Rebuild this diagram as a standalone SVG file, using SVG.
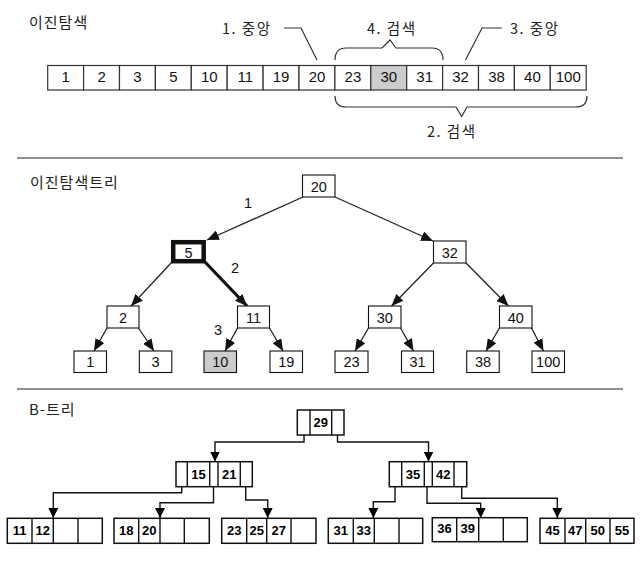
<svg xmlns="http://www.w3.org/2000/svg" width="640" height="570" viewBox="0 0 640 570">
<style>
.bg{fill:#fff}
.cell{fill:#fff;stroke:#333;stroke-width:1.2}
.hl{fill:#cccccc}
.num{font-family:"Liberation Sans","Noto Sans CJK KR",sans-serif;font-size:15px;fill:#111;text-anchor:middle}
.tnum{font-family:"Liberation Sans","Noto Sans CJK KR",sans-serif;font-size:14.5px;fill:#111;text-anchor:middle}
.bnum{font-family:"Liberation Sans","Noto Sans CJK KR",sans-serif;font-size:13px;font-weight:bold;fill:#000;text-anchor:middle}
.kr{font-family:"Noto Sans CJK KR","Liberation Sans",sans-serif;font-size:14.5px;letter-spacing:1.5px;fill:#222}
.title{font-family:"Noto Sans CJK KR","Liberation Sans",sans-serif;font-size:15px;letter-spacing:1px;fill:#222}
.lbl{font-family:"Liberation Sans",sans-serif;font-size:14.5px;fill:#111;text-anchor:middle}
.thin{fill:none;stroke:#333;stroke-width:1.2}
.node{fill:#fff;stroke:#111;stroke-width:1.1}
.edge{stroke:#222;stroke-width:1.3;fill:none;marker-end:url(#ah)}
.edgeb{stroke:#111;stroke-width:3.2;fill:none;marker-end:url(#ah)}
.bbox{fill:#fff;stroke:#111;stroke-width:1.5}
.bptr{stroke:#111;stroke-width:1.4;fill:none}
.barr{stroke:#111;stroke-width:1.4;fill:none;marker-end:url(#bh)}
.sep{stroke:#222;stroke-width:1.2}
</style>
<defs>
<marker id="ah" viewBox="0 0 12 10" refX="12" refY="5" markerWidth="12" markerHeight="10" markerUnits="userSpaceOnUse" orient="auto">
<path d="M0,0 L12,5 L0,10 z" fill="#111"/>
</marker>
<marker id="bh" viewBox="0 0 10 10" refX="10" refY="5" markerWidth="10" markerHeight="10" markerUnits="userSpaceOnUse" orient="auto">
<path d="M0,0 L10,5 L0,10 z" fill="#000"/>
</marker>
</defs>
<rect class="bg" x="0" y="0" width="640" height="570"/>

<!-- Section 1: binary search -->
<text class="title" x="29" y="28">이진탐색</text>
<g id="array">
<rect class="cell" x="47.7" y="65.5" width="35.9" height="24.5"/>
<rect class="cell" x="83.6" y="65.5" width="35.9" height="24.5"/>
<rect class="cell" x="119.5" y="65.5" width="35.9" height="24.5"/>
<rect class="cell" x="155.4" y="65.5" width="35.9" height="24.5"/>
<rect class="cell" x="191.3" y="65.5" width="35.9" height="24.5"/>
<rect class="cell" x="227.2" y="65.5" width="35.9" height="24.5"/>
<rect class="cell" x="263.1" y="65.5" width="35.9" height="24.5"/>
<rect class="cell" x="299.0" y="65.5" width="35.9" height="24.5"/>
<rect class="cell" x="334.9" y="65.5" width="35.9" height="24.5"/>
<rect class="cell hl" x="370.8" y="65.5" width="35.9" height="24.5"/>
<rect class="cell" x="406.7" y="65.5" width="35.9" height="24.5"/>
<rect class="cell" x="442.6" y="65.5" width="35.9" height="24.5"/>
<rect class="cell" x="478.5" y="65.5" width="35.9" height="24.5"/>
<rect class="cell" x="514.4" y="65.5" width="35.9" height="24.5"/>
<rect class="cell" x="550.3" y="65.5" width="35.9" height="24.5"/>
<text class="num" x="65.7" y="82">1</text>
<text class="num" x="101.6" y="82">2</text>
<text class="num" x="137.5" y="82">3</text>
<text class="num" x="173.4" y="82">5</text>
<text class="num" x="209.3" y="82">10</text>
<text class="num" x="245.2" y="82">11</text>
<text class="num" x="281.1" y="82">19</text>
<text class="num" x="317.0" y="82">20</text>
<text class="num" x="352.9" y="82">23</text>
<text class="num" x="388.8" y="82">30</text>
<text class="num" x="424.7" y="82">31</text>
<text class="num" x="460.6" y="82">32</text>
<text class="num" x="496.5" y="82">38</text>
<text class="num" x="532.4" y="82">40</text>
<text class="num" x="568.3" y="82">100</text>
</g>
<g id="annotations">
<text class="kr" x="222" y="34">1. 중앙</text>
<polyline class="thin" points="284,28 301,28 317,60"/>
<text class="kr" x="367" y="34">4. 검색</text>
<path class="thin" d="M335,60 Q335,48 346,48 L382,48 L390,40 L396,48 L432,48 Q443,48 443,60"/>
<text class="kr" x="510" y="34">3. 중앙</text>
<polyline class="thin" points="502,28 482,28 465.5,60"/>
<path class="thin" d="M335,96 Q335,107 346,107 L456,107 L461.7,116.5 L467,107 L576,107 Q587,107 587,96"/>
<text class="kr" x="427" y="137">2. 검색</text>
</g>
<line class="sep" x1="17" y1="158" x2="623" y2="158"/>

<!-- Section 2: binary search tree -->
<text class="title" x="30" y="188">이진탐색트리</text>
<g id="bst-edges">
<line class="edge" x1="303" y1="197" x2="207" y2="240"/>
<line class="edge" x1="335" y1="197" x2="433" y2="241"/>
<line class="edge" x1="172" y1="262" x2="131" y2="306"/>
<line class="edgeb" x1="205" y1="262" x2="247" y2="306"/>
<line class="edge" x1="433.5" y1="263" x2="391.5" y2="306"/>
<line class="edge" x1="466" y1="263" x2="508.5" y2="306"/>
<line class="edge" x1="107" y1="328" x2="94" y2="351"/>
<line class="edge" x1="138.5" y1="328" x2="154" y2="351"/>
<line class="edge" x1="237.5" y1="328" x2="225" y2="351"/>
<line class="edge" x1="269.5" y1="328" x2="283" y2="351"/>
<line class="edge" x1="368.5" y1="328" x2="355" y2="351"/>
<line class="edge" x1="400.5" y1="328" x2="413.5" y2="351"/>
<line class="edge" x1="499.5" y1="328" x2="486" y2="351"/>
<line class="edge" x1="531.5" y1="328" x2="543.5" y2="351"/>
</g>
<text class="lbl" x="248" y="208">1</text>
<text class="lbl" x="235" y="273">2</text>
<text class="lbl" x="218" y="335">3</text>
<g id="n20"><rect class="node" x="302.5" y="175" width="32.5" height="22"/><text class="tnum" x="318.7" y="191.5">20</text></g>
<g id="n5"><rect class="node" x="173.2" y="242.2" width="30.5" height="19" style="stroke-width:4.5"/><text class="tnum" x="188.5" y="257.5">5</text></g>
<g id="n32"><rect class="node" x="433.5" y="241" width="32.5" height="22"/><text class="tnum" x="449.7" y="257.5">32</text></g>
<g id="n2"><rect class="node" x="107" y="306" width="32" height="22"/><text class="tnum" x="123" y="322.5">2</text></g>
<g id="n11"><rect class="node" x="237.5" y="306" width="32" height="22"/><text class="tnum" x="253.5" y="322.5">11</text></g>
<g id="n30"><rect class="node" x="368.5" y="306" width="32.5" height="22"/><text class="tnum" x="384.7" y="322.5">30</text></g>
<g id="n40"><rect class="node" x="499.5" y="306" width="32.5" height="22"/><text class="tnum" x="515.7" y="322.5">40</text></g>
<g id="n1"><rect class="node" x="74" y="351" width="32.5" height="21.5"/><text class="tnum" x="90.2" y="367">1</text></g>
<g id="n3"><rect class="node" x="139.3" y="351" width="32.5" height="21.5"/><text class="tnum" x="155.5" y="367">3</text></g>
<g id="n10"><rect class="node" x="204" y="351" width="32.5" height="21.5" style="fill:#cccccc"/><text class="tnum" x="220.2" y="367">10</text></g>
<g id="n19"><rect class="node" x="270" y="351" width="32.5" height="21.5"/><text class="tnum" x="286.2" y="367">19</text></g>
<g id="n23"><rect class="node" x="335" y="351" width="33" height="21.5"/><text class="tnum" x="351.5" y="367">23</text></g>
<g id="n31"><rect class="node" x="401.5" y="351" width="32" height="21.5"/><text class="tnum" x="417.5" y="367">31</text></g>
<g id="n38"><rect class="node" x="466.7" y="351" width="32.5" height="21.5"/><text class="tnum" x="483" y="367">38</text></g>
<g id="n100"><rect class="node" x="532" y="351" width="32.5" height="21.5"/><text class="tnum" x="548.2" y="367">100</text></g>
<line class="sep" x1="17" y1="389" x2="623" y2="389"/>

<!-- Section 3: B-tree -->
<text class="title" x="29" y="415">B-트리</text>
<g id="btree-edges">
<polyline class="barr" points="304,423 304,442 215,442 215,461.5"/>
<polyline class="barr" points="337.5,423 337.5,442 428.5,442 428.5,461.5"/>
<polyline class="barr" points="181.7,476 181.7,492.7 53.3,492.7 53.3,518"/>
<polyline class="barr" points="213.5,476 213.5,502.7 160,502.7 160,518"/>
<polyline class="barr" points="245.7,476 245.7,500 267.7,500 267.7,518"/>
<polyline class="barr" points="395,476 395,501.7 373.3,501.7 373.3,518"/>
<polyline class="barr" points="427,476 427,503.3 480.7,503.3 480.7,518"/>
<polyline class="barr" points="461.7,476 461.7,498.3 557.3,498.3 557.3,518"/>
</g>
<g id="b29">
<rect class="bbox" x="297.3" y="410" width="46.7" height="25"/>
<line class="bptr" x1="310" y1="410" x2="310" y2="435"/>
<line class="bptr" x1="331.7" y1="410" x2="331.7" y2="435"/>
<text class="bnum" x="320.8" y="427">29</text>
</g>
<g id="b15-21">
<rect class="bbox" x="176" y="461.7" width="76.3" height="25"/>
<line class="bptr" x1="187.3" y1="461.7" x2="187.3" y2="486.7"/>
<line class="bptr" x1="209.7" y1="461.7" x2="209.7" y2="486.7"/>
<line class="bptr" x1="218" y1="461.7" x2="218" y2="486.7"/>
<line class="bptr" x1="240.3" y1="461.7" x2="240.3" y2="486.7"/>
<text class="bnum" x="198.5" y="478.5">15</text>
<text class="bnum" x="229.2" y="478.5">21</text>
</g>
<g id="b35-42">
<rect class="bbox" x="389.3" y="461.7" width="77.4" height="25"/>
<line class="bptr" x1="401.7" y1="461.7" x2="401.7" y2="486.7"/>
<line class="bptr" x1="424.3" y1="461.7" x2="424.3" y2="486.7"/>
<line class="bptr" x1="432.3" y1="461.7" x2="432.3" y2="486.7"/>
<line class="bptr" x1="454" y1="461.7" x2="454" y2="486.7"/>
<text class="bnum" x="413" y="478.5">35</text>
<text class="bnum" x="443.2" y="478.5">42</text>
</g>
<g id="leaf1">
<rect class="bbox" x="7.3" y="518.3" width="95" height="25"/>
<line class="bptr" x1="32" y1="518.3" x2="32" y2="543.3"/>
<line class="bptr" x1="53.3" y1="518.3" x2="53.3" y2="543.3"/>
<line class="bptr" x1="78" y1="518.3" x2="78" y2="543.3"/>
<text class="bnum" x="19.7" y="535">11</text>
<text class="bnum" x="42.7" y="535">12</text>
</g>
<g id="leaf2">
<rect class="bbox" x="114" y="518.3" width="95.3" height="25"/>
<line class="bptr" x1="138.7" y1="518.3" x2="138.7" y2="543.3"/>
<line class="bptr" x1="160" y1="518.3" x2="160" y2="543.3"/>
<line class="bptr" x1="184.3" y1="518.3" x2="184.3" y2="543.3"/>
<text class="bnum" x="126.3" y="535">18</text>
<text class="bnum" x="149.3" y="535">20</text>
</g>
<g id="leaf3">
<rect class="bbox" x="221.7" y="518.3" width="94.3" height="25"/>
<line class="bptr" x1="246.7" y1="518.3" x2="246.7" y2="543.3"/>
<line class="bptr" x1="266.7" y1="518.3" x2="266.7" y2="543.3"/>
<line class="bptr" x1="291" y1="518.3" x2="291" y2="543.3"/>
<text class="bnum" x="234.2" y="535">23</text>
<text class="bnum" x="256.7" y="535">25</text>
<text class="bnum" x="278.8" y="535">27</text>
</g>
<g id="leaf4">
<rect class="bbox" x="328.3" y="518.3" width="94.4" height="25"/>
<line class="bptr" x1="353.3" y1="518.3" x2="353.3" y2="543.3"/>
<line class="bptr" x1="374.3" y1="518.3" x2="374.3" y2="543.3"/>
<line class="bptr" x1="399" y1="518.3" x2="399" y2="543.3"/>
<text class="bnum" x="340.8" y="535">31</text>
<text class="bnum" x="363.8" y="535">33</text>
</g>
<g id="leaf5">
<rect class="bbox" x="432.3" y="517.7" width="95" height="24"/>
<line class="bptr" x1="456.7" y1="517.7" x2="456.7" y2="541.7"/>
<line class="bptr" x1="478.7" y1="517.7" x2="478.7" y2="541.7"/>
<line class="bptr" x1="503.3" y1="517.7" x2="503.3" y2="541.7"/>
<text class="bnum" x="444.5" y="533">36</text>
<text class="bnum" x="467.7" y="533">39</text>
</g>
<g id="leaf6">
<rect class="bbox" x="540" y="518.3" width="94" height="25"/>
<line class="bptr" x1="565" y1="518.3" x2="565" y2="543.3"/>
<line class="bptr" x1="585.7" y1="518.3" x2="585.7" y2="543.3"/>
<line class="bptr" x1="610" y1="518.3" x2="610" y2="543.3"/>
<text class="bnum" x="552.5" y="535">45</text>
<text class="bnum" x="575.3" y="535">47</text>
<text class="bnum" x="597.8" y="535">50</text>
<text class="bnum" x="622" y="535">55</text>
</g>
</svg>
